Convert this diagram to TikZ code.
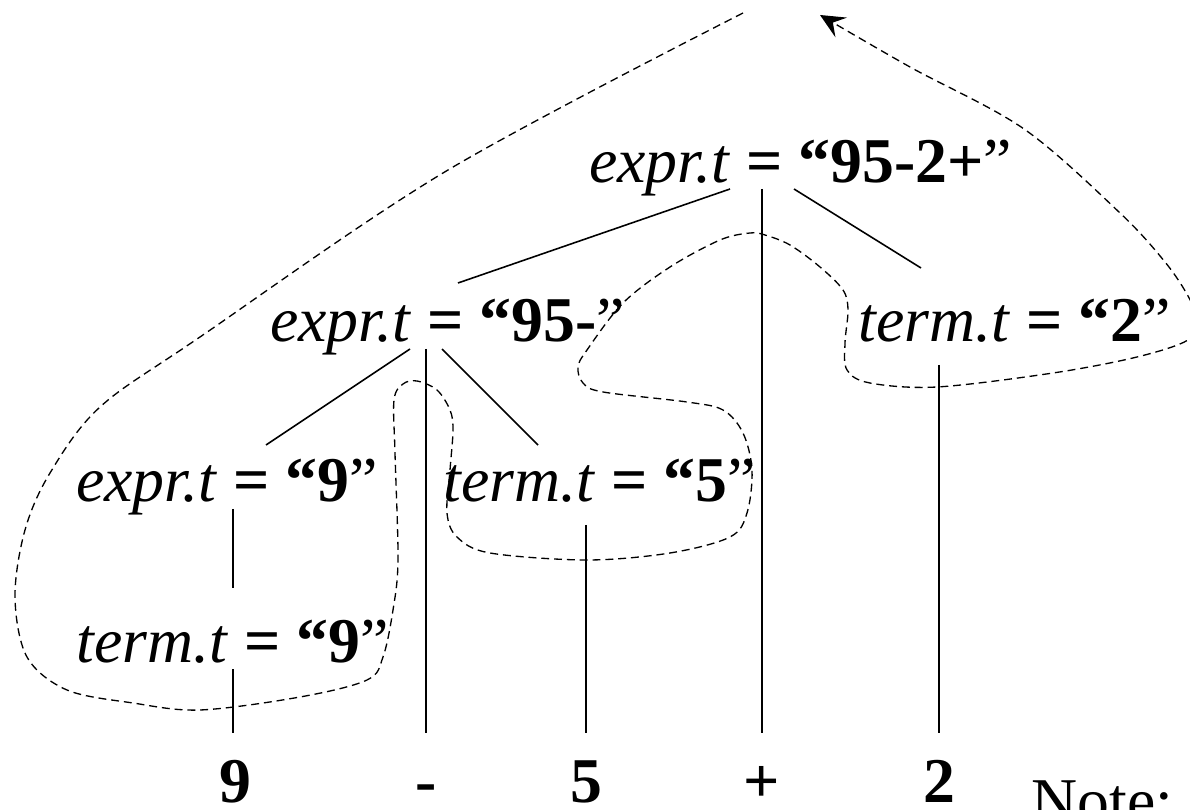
\documentclass[tikz,border=0pt]{standalone}
\usepackage{fontspec}
\setmainfont{Liberation Serif}
\usetikzlibrary{arrows.meta}

\newcommand\treefont{\fontsize{36.3}{44}\selectfont}
\newcommand\attr[2]{\textit{#1.t} \textbf{= “#2}”}

\begin{document}
\begin{tikzpicture}[
  x=0.02cm, y=-0.02cm,
  attr/.style={anchor=base west, inner sep=0pt, font=\treefont},
  tok/.style={anchor=base, inner sep=0pt, font=\treefont\bfseries},
  link/.style={line width=0.9pt},
  walk/.style={line width=0.75pt, dash pattern=on 4.5pt off 2.8pt}]

  \useasboundingbox (0,0) rectangle (1190,810);
  \clip (0,0) rectangle (1190,810);

  % annotated parse tree
  \node[attr] (root)  at (589,183) {\attr{expr}{95-2+}};
  \node[attr] (lexpr) at (270,342) {\attr{expr}{95-}};
  \node[attr] (rterm) at (858,342) {\attr{term}{2}};
  \node[attr] (expr9) at (76,502)  {\attr{expr}{9}};
  \node[attr] (term5) at (443,502) {\attr{term}{5}};
  \node[attr] (term9) at (76,662)  {\attr{term}{9}};

  % input tokens
  \node[tok] (tk9)     at (235,802) {9};
  \node[tok] (tkminus) at (426,802) {-};
  \node[tok] (tk5)     at (586,802) {5};
  \node[tok] (tkplus)  at (762,802) {+};
  \node[tok] (tk2)     at (939,802) {2};
  \node[attr] (note)   at (1031,822) {Note:};

  % edge ends
  \coordinate (root-l) at (730,189);
  \coordinate (root-m) at (762,189);
  \coordinate (root-r) at (794,189);
  \coordinate (lexpr-top) at (458,283);
  \coordinate (rterm-top) at (921,268);
  \coordinate (lexpr-l) at (410,349);
  \coordinate (lexpr-m) at (426,349);
  \coordinate (lexpr-r) at (442,349);
  \coordinate (expr9-top) at (266,445);
  \coordinate (term5-top) at (538,445);
  \coordinate (rterm-b) at (939,365);
  \coordinate (expr9-b) at (233,509);
  \coordinate (term9-top) at (233,588);
  \coordinate (term5-b) at (586,525);
  \coordinate (term9-b) at (233,669);
  \coordinate (tk9-top) at (233,733);
  \coordinate (tkminus-top) at (426,733);
  \coordinate (tk5-top) at (586,733);
  \coordinate (tkplus-top) at (762,733);
  \coordinate (tk2-top) at (939,733);

  \draw[link] (root-l) -- (lexpr-top);
  \draw[link] (root-m) -- (tkplus-top);
  \draw[link] (root-r) -- (rterm-top);
  \draw[link] (lexpr-l) -- (expr9-top);
  \draw[link] (lexpr-m) -- (tkminus-top);
  \draw[link] (lexpr-r) -- (term5-top);
  \draw[link] (rterm-b) -- (tk2-top);
  \draw[link] (expr9-b) -- (term9-top);
  \draw[link] (term5-b) -- (tk5-top);
  \draw[link] (term9-b) -- (tk9-top);

  % depth-first walk
  \draw[walk, -{Stealth[length=14pt, width=13pt, inset=5.5pt]}]
    plot[smooth, tension=0.55] coordinates {
      (743,13) (448,170) (200,337) (100,407) (50,473) (25,530) (15,597)
      (27,657) (67,690) (133,703) (200,710) (300,697) (367,680) (383,657)
      (393,610) (398,560) (395,453) (394,400) (403,384) (417,381) (437,390)
      (450,410) (453,430) (450,470) (447,513) (457,537) (490,553) (587,560)
      (670,553) (730,537) (747,513) (752,470) (743,433) (723,410) (687,402)
      (603,392) (583,383) (578,367) (587,350) (623,303) (670,267) (720,240)
      (750,233) (765,235) (790,245) (820,267) (843,290) (848,310) (845,343)
      (847,370) (870,383) (937,387) (1053,373) (1137,357) (1188,340)
      (1197,320) (1188,296) (1165,262) (1120,213) (1024,129)
      (910,67) (820,15)};
\end{tikzpicture}
\end{document}
